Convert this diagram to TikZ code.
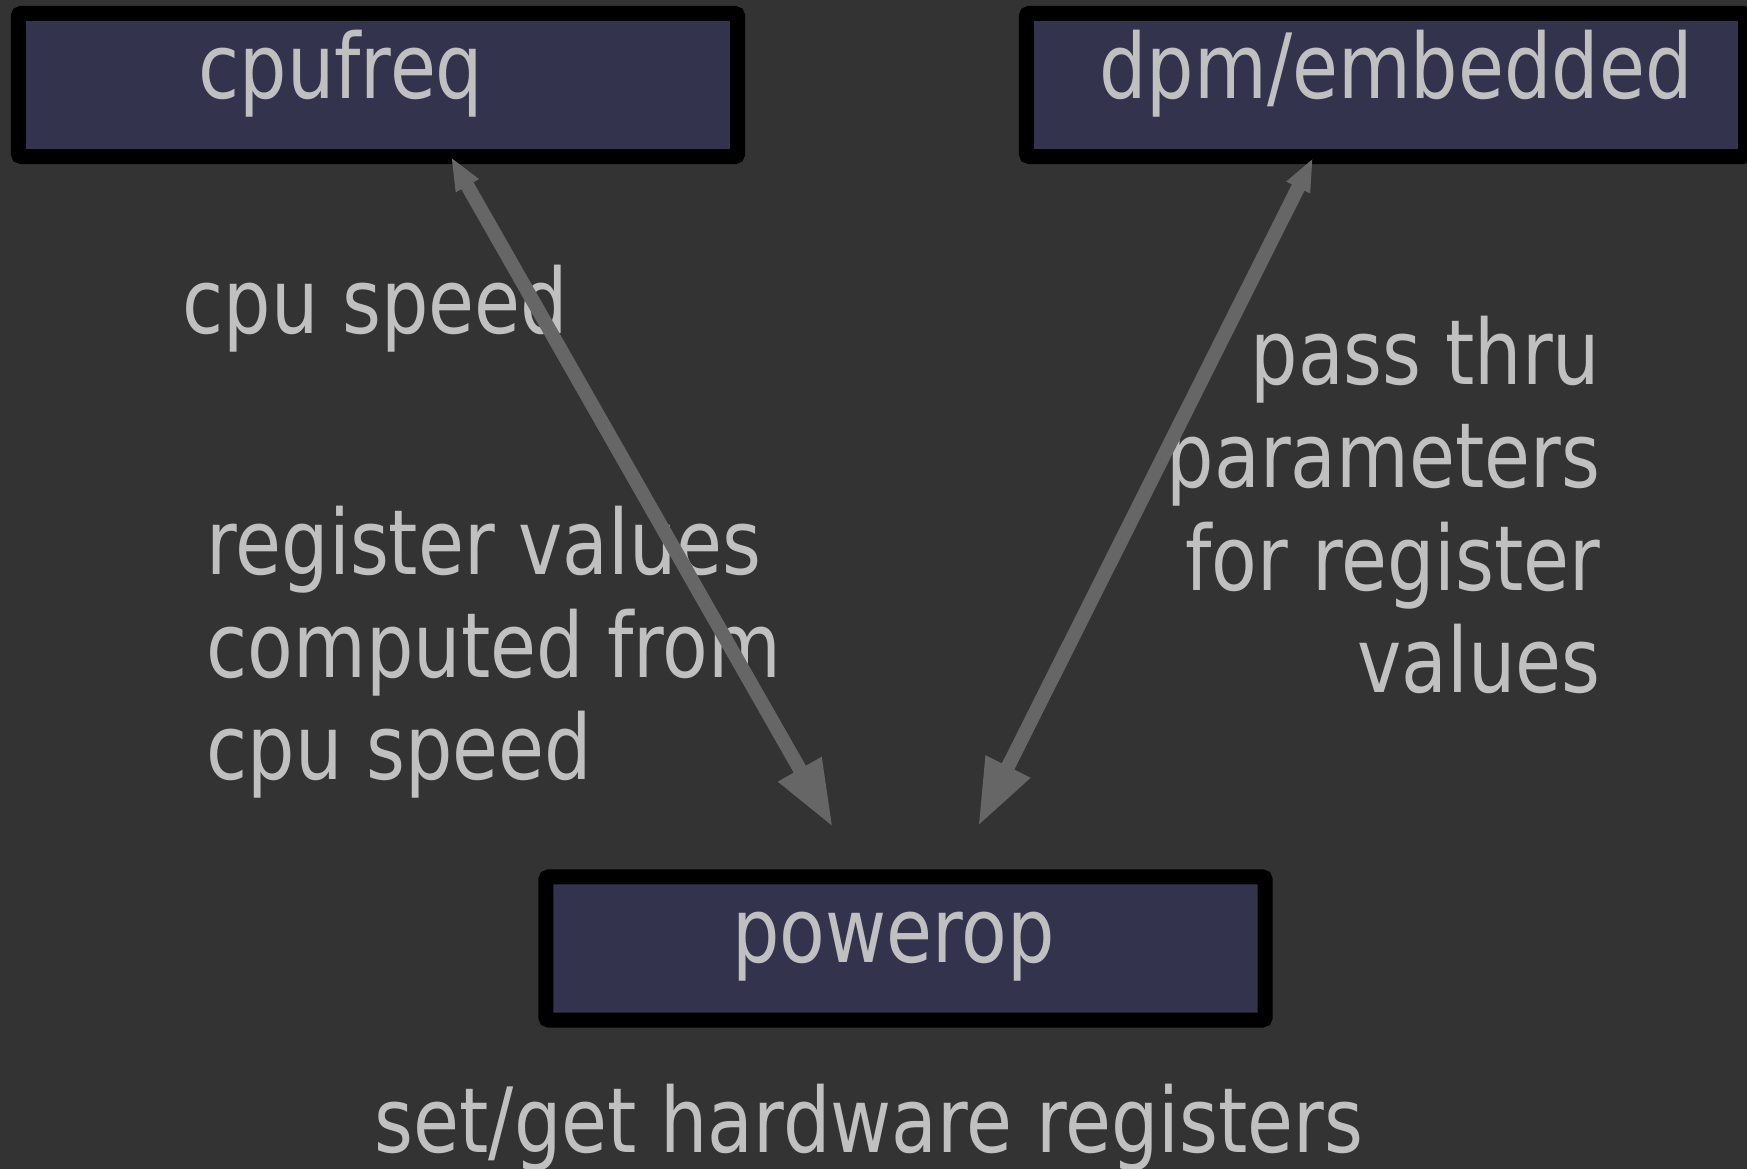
\documentclass[tikz,border=0pt]{standalone}
\usepackage{fontspec}
\setmainfont{DejaVu Sans}[FakeStretch=0.83]
\usepackage{tikz}
\usetikzlibrary{arrows.meta}
\definecolor{slidebg}{HTML}{333333}
\definecolor{boxfill}{HTML}{33334D}
\definecolor{fgtext}{HTML}{C0C0C0}
\definecolor{linkgray}{HTML}{666666}

\begin{document}
\begin{tikzpicture}
[
  x=0.01cm, y=0.01cm,
  module/.style  = {shape=rectangle, draw=black, fill=boxfill, line width=0.15cm,
                    rounded corners=0.03cm, minimum width=7.19cm,
                    minimum height=1.43cm, inner sep=0pt},
  boxtext/.style = {text=fgtext, inner sep=0pt, text height=0.66cm,
                    text depth=0.17cm, font=\fontsize{25.6pt}{29.2pt}\selectfont},
  note/.style    = {text=fgtext, inner sep=0pt,
                    font=\fontsize{25.6pt}{29.2pt}\selectfont},
  link/.style    = {draw=linkgray, line width=0.14cm,
                    arrows={Triangle[length=0.33cm,width=0.24cm]-Triangle[length=0.67cm,width=0.46cm]}}
]
\useasboundingbox (0,0) rectangle (1747,1169);
\fill [slidebg] (0,0) rectangle (1747,1169);

\node [module, label={[boxtext,xshift=-0.37cm,yshift=0.11cm]center:cpufreq}]
  (cpufreq) at (378,1084) {};
\node [module, label={[boxtext,xshift=0.1cm,yshift=0.11cm]center:dpm/embedded}]
  (dpm) at (1386,1084) {};
\node [module, label={[boxtext,xshift=-0.12cm,yshift=0.11cm]center:powerop}]
  (powerop) at (905.5,220.5) {};

\node [note, anchor=base west] (speed) at (182,835) {cpu speed};
\node [note, anchor=base west, align=left] (regvals) at (206,389)
  {register values\\computed from\\cpu speed};
\node [note, anchor=base east, align=right] (passthru) at (1601,476)
  {pass thru\\parameters\\for register\\values};
\node [note, anchor=base] (hwregs) at (869,16) {set/get hardware registers};

\draw [link] ([xshift=0.73cm,yshift=0.07cm]cpufreq.south)
  -- ([xshift=-0.725cm,yshift=0.42cm]powerop.north);
\draw [link] ([xshift=-0.73cm,yshift=0.06cm]dpm.south)
  -- ([xshift=0.725cm,yshift=0.43cm]powerop.north);
\end{tikzpicture}
\end{document}
